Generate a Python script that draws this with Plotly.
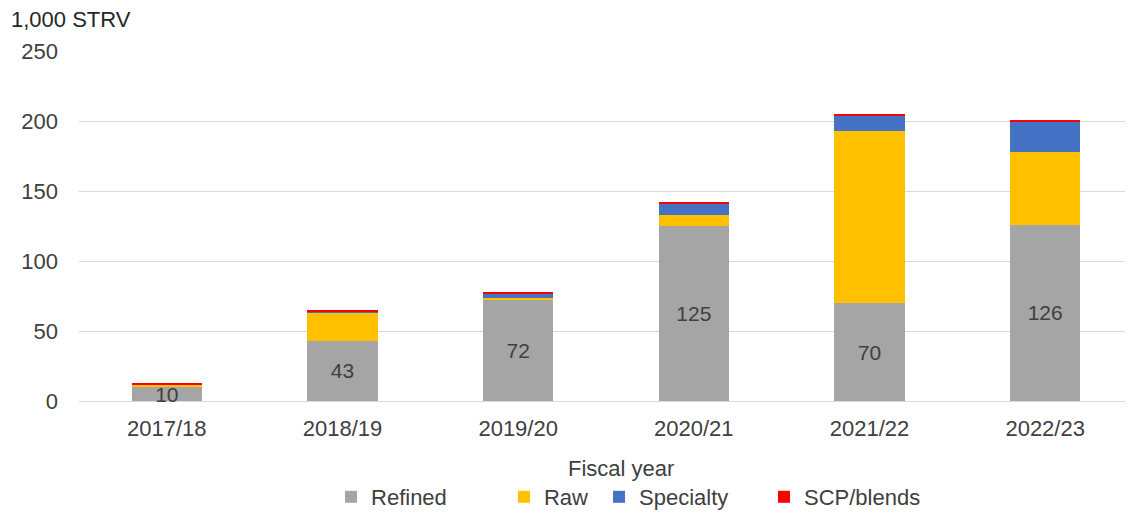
import plotly.graph_objects as go

years = ["2017/18", "2018/19", "2019/20", "2020/21", "2021/22", "2022/23"]
refined = [10, 43, 72, 125, 70, 126]
raw = [1.5, 20.5, 1.5, 8, 123, 52]
specialty = [0.3, 0.3, 3, 8, 11, 21]
scp = [1, 1, 1.5, 1, 1, 2]
refined_labels = ["10", "43", "72", "125", "70", "126"]

series = [
    ("Refined", refined, "#A5A5A5"),
    ("Raw", raw, "#FFC000"),
    ("Specialty", specialty, "#4472C4"),
    ("SCP/blends", scp, "#FF0000"),
]

FONT = "Liberation Sans, Arial, sans-serif"
TXT = "#404040"
fig = go.Figure()
legend_names = ["legend", "legend2", "legend3", "legend4"]
for i, (name, vals, col) in enumerate(series):
    kw = {}
    if name == "Refined":
        kw = dict(text=refined_labels, textposition="inside", insidetextanchor="middle",
                  constraintext="none", cliponaxis=False,
                  textfont=dict(size=21, color=TXT, family=FONT), textangle=0)
    fig.add_trace(go.Bar(x=years, y=vals, name=name, marker=dict(color=col, line=dict(width=0)),
                         legend=legend_names[i], hoverinfo="skip", **kw))

# page has an 8px body margin, so figure is 8px smaller and offsets shifted
FIG_W, FIG_H = 1125, 505
PLOT_W = 1054
PLOT_H = 350
legend_x = [0.2391, 0.4032, 0.4934, 0.6499]
leg_common = dict(orientation="h", yanchor="middle", y=(401 - 497) / PLOT_H, xanchor="left",
                  font=dict(size=22, color=TXT, family=FONT), bgcolor="rgba(0,0,0,0)")
layout_legends = {}
for name, x in zip(legend_names, legend_x):
    layout_legends[name] = dict(x=x, **leg_common)

fig.update_layout(
    barmode="stack",
    bargap=0.6,
    width=FIG_W, height=FIG_H,
    margin=dict(l=71, r=0, t=43, b=112, autoexpand=False),
    plot_bgcolor="white", paper_bgcolor="white",
    font=dict(family=FONT, size=22, color=TXT),
    showlegend=True,
    title=dict(text="1,000 STRV", xref="container", yref="container", x=3 / FIG_W, xanchor="left",
               y=1.0 - 4 / FIG_H, yanchor="top", pad=dict(t=0, b=0, l=0, r=0),
               font=dict(size=22, color="#262626", family=FONT)),
    xaxis=dict(showline=False, ticks="", tickfont=dict(size=22, color=TXT), ticklabelstandoff=12,
               automargin=False),
    yaxis=dict(range=[0, 250], dtick=50, showgrid=True, gridcolor="#D9D9D9", gridwidth=1,
               zeroline=True, zerolinecolor="#D9D9D9", zerolinewidth=1, automargin=False,
               tickfont=dict(size=22, color=TXT), ticklabelstandoff=20),
    annotations=[
        dict(text="Fiscal year", xref="paper", yref="paper", x=(621 - 79) / PLOT_W, y=(401 - 468) / PLOT_H,
             xanchor="center", yanchor="middle", showarrow=False,
             font=dict(size=22, color=TXT, family=FONT)),
    ],
    **layout_legends,
)
fig.write_html("out.html")
